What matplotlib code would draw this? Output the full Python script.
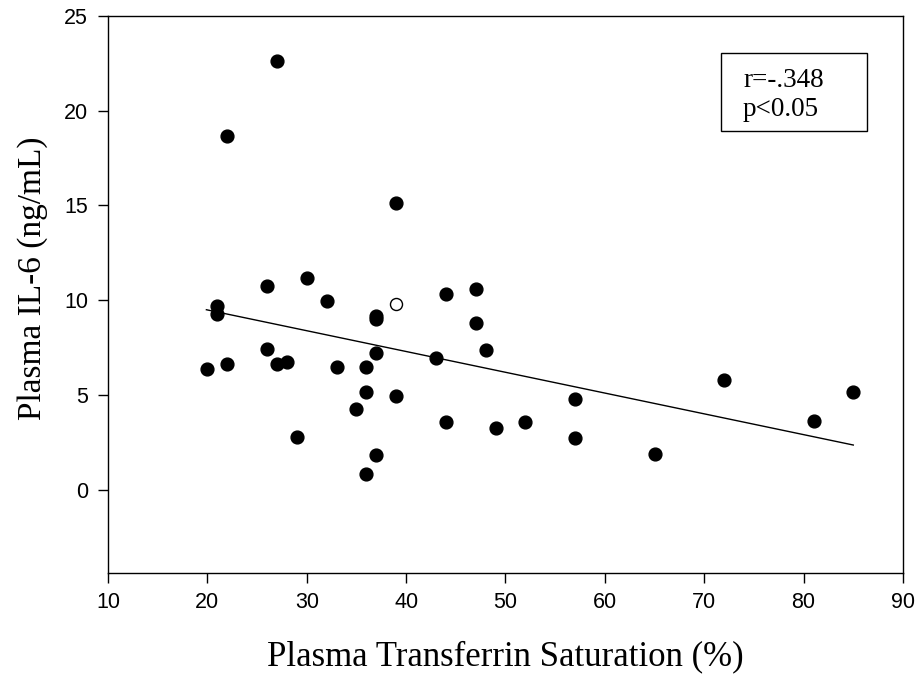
import matplotlib
matplotlib.use("Agg")
import matplotlib.pyplot as plt
from matplotlib.patches import Rectangle
import numpy as np

# Transferrin saturation (%) and IL-6 (ng/mL), filled subjects
tsat = [27, 22, 39, 26, 30, 32, 44, 47, 21, 21, 37, 37, 47, 26, 37, 48, 43,
        20, 22, 27, 28, 33, 36, 36, 39, 35, 44, 49, 29, 37, 36,
        72, 85, 57, 52, 81, 57, 65]
il6 = [22.6, 18.65, 15.15, 10.75, 11.15, 9.95, 10.35, 10.6, 9.68, 9.28, 9.18, 9.0, 8.78,
       7.42, 7.22, 7.38, 6.95, 6.38, 6.62, 6.62, 6.73, 6.47, 6.47, 5.18, 4.95, 4.25,
       3.57, 3.28, 2.78, 1.84, 0.8, 5.78, 5.13, 4.8, 3.58, 3.62, 2.72, 1.9]

# Open-symbol subject
open_tsat = [39]
open_il6 = [9.8]

# Regression line
fit_intercept = 11.68
fit_slope = -0.1097
fit_range = [19.9, 85.0]

xticks = [10, 20, 30, 40, 50, 60, 70, 80, 90]
yticks = [0, 5, 10, 15, 20, 25]

fig = plt.figure(figsize=(9.17, 6.79), dpi=100)
ax = fig.add_axes([0.1178, 0.1561, 0.9847 - 0.1178, 0.9764 - 0.1561])

fx = np.array(fit_range)
ax.plot(fx, fit_intercept + fit_slope * fx, color="black", lw=1.0, zorder=2)
ax.scatter(tsat, il6, s=85, color="black", edgecolors="black", zorder=3)
ax.scatter(open_tsat, open_il6, s=75, facecolors="white", edgecolors="black",
           linewidths=1.0, zorder=3)

ax.set_xlim(10, 90)
ax.set_ylim(-4.4, 25)
ax.set_xticks(xticks)
ax.set_yticks(yticks)
ax.tick_params(direction="out", length=7, width=1, labelsize=15.5,
               top=False, right=False)
ax.tick_params(axis="x", pad=6.5)
ax.tick_params(axis="y", pad=7.5)
for lab in ax.get_xticklabels() + ax.get_yticklabels():
    lab.set_fontfamily("Liberation Sans")
for sp in ax.spines.values():
    sp.set_linewidth(1.0)

ax.set_xlabel("Plasma Transferrin Saturation (%)", family="Liberation Serif",
              fontsize=25, labelpad=20)
ax.set_ylabel("Plasma IL-6 (ng/mL)", family="Liberation Serif", fontsize=24)
ax.yaxis.set_label_coords(-0.075, 0.53)

# Statistics box
fig.patches.append(Rectangle((721 / 917, 1 - 131 / 679), 146 / 917, 78 / 679,
                             transform=fig.transFigure, facecolor="white",
                             edgecolor="black", linewidth=1.0, zorder=5))
fig.text(743 / 917, 1 - 87 / 679, "r=-.348", family="Liberation Serif",
         fontsize=19.5, va="baseline", ha="left", zorder=6)
fig.text(743 / 917, 1 - 116 / 679, "p<0.05", family="Liberation Serif",
         fontsize=19.5, va="baseline", ha="left", zorder=6)

fig.savefig("out.png", dpi=100)
